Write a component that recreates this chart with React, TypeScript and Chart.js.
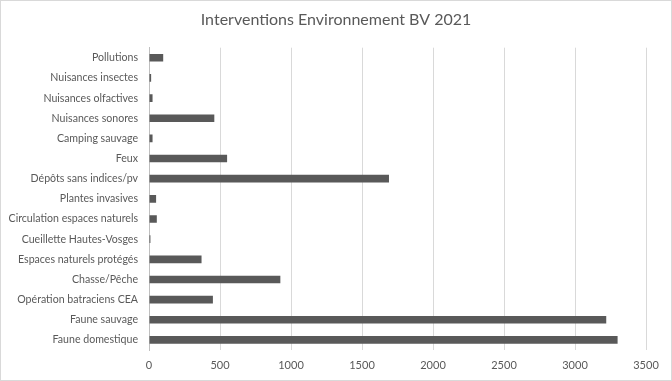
import React, { useEffect, useRef } from "react";
import { Chart, registerables } from "chart.js";

Chart.register(...registerables);

const chartTitle = "Interventions Environnement BV 2021";
const categories = [
  "Pollutions",
  "Nuisances insectes",
  "Nuisances olfactives",
  "Nuisances sonores",
  "Camping sauvage",
  "Feux",
  "Dépôts sans indices/pv",
  "Plantes invasives",
  "Circulation espaces naturels",
  "Cueillette Hautes-Vosges",
  "Espaces naturels protégés",
  "Chasse/Pêche",
  "Opération batraciens CEA",
  "Faune sauvage",
  "Faune domestique",
];
const values = [100, 15, 25, 460, 25, 550, 1690, 50, 55, 10, 370, 925, 450, 3220, 3300];
const xMin = 0;
const xMax = 3500;
const xStep = 500;

const FONT = "Lato, 'Open Sans', sans-serif";
const TEXT = "#595959";

const borderPlugin = {
  id: "outerBorder",
  beforeDraw(chart: any) {
    const ctx = chart.ctx;
    ctx.save();
    ctx.fillStyle = "#ffffff";
    ctx.fillRect(0, 0, chart.width, chart.height);
    ctx.strokeStyle = "#d9d9d9";
    ctx.lineWidth = 1;
    ctx.strokeRect(0.5, 0.5, chart.width - 1, chart.height - 1);
    ctx.restore();
  },
  afterLayout(chart: any) {
    const t = chart.titleBlock;
    if (t) {
      t.left = 0;
      t.right = chart.width;
      t.width = chart.width;
    }
  },
};

export default function App() {
  const ref = useRef<HTMLCanvasElement | null>(null);
  useEffect(() => {
    if (!ref.current) return;
    const chart = new Chart(ref.current, {
      type: "bar",
      data: {
        labels: categories,
        datasets: [
          {
            data: values,
            backgroundColor: "#595959",
            borderWidth: 0,
            barPercentage: 0.38,
            categoryPercentage: 1,
          },
        ],
      },
      options: {
        indexAxis: "y",
        animation: false,
        responsive: false,
        maintainAspectRatio: false,
        layout: { padding: { left: 0, right: 26, top: 0, bottom: 0 } },
        plugins: {
          legend: { display: false },
          tooltip: { enabled: false },
          title: {
            display: true,
            text: chartTitle,
            color: TEXT,
            font: { family: FONT, size: 16, weight: "normal" },
            padding: { top: 10.5, bottom: 18 },
          },
        },
        scales: {
          x: {
            min: xMin,
            max: xMax,
            ticks: {
              stepSize: xStep,
              color: TEXT,
              font: { family: FONT, size: 11 },
              padding: 9,
              callback: (v: any) => String(v),
            },
            grid: { color: "#d9d9d9", drawTicks: false, lineWidth: 1 },
            border: { display: false },
            afterFit(scale: any) {
              scale.height = 31;
            },
          },
          y: {
            ticks: {
              color: TEXT,
              font: { family: FONT, size: 10.6 },
              padding: 11,
              autoSkip: false,
            },
            grid: { display: false, drawTicks: false },
            border: { display: true, color: "#bfbfbf" },
            afterFit(scale: any) {
              scale.width = 149;
            },
          },
        },
      },
      plugins: [borderPlugin],
    } as any);
    return () => chart.destroy();
  }, []);
  return (
    <div style={{ position: "fixed", left: 0, top: 0, width: 672, height: 381 }}>
      <canvas ref={ref} width={672} height={381} style={{ width: 672, height: 381, display: "block" }} />
    </div>
  );
}
